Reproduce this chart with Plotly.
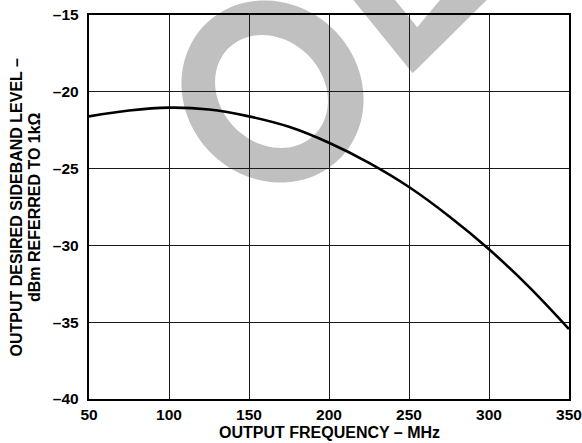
import numpy as np
import plotly.graph_objects as go

# ---- data ----
freq_mhz = [50, 75, 100, 125, 150, 175, 200, 225, 250, 275, 300, 325, 350]
level_dbm = [-21.6, -21.22, -21.03, -21.15, -21.6, -22.28, -23.32, -24.63,
             -26.2, -28.1, -30.25, -32.7, -35.45]

x_tick_vals = [50, 100, 150, 200, 250, 300, 350]
x_tick_text = ["50", "100", "150", "200", "250", "300", "350"]
y_tick_vals = [-40, -35, -30, -25, -20, -15]
y_tick_text = ["–40", "–35", "–30", "–25", "–20", "–15"]

x_title = "OUTPUT FREQUENCY – MHz"
y_title_1 = "OUTPUT DESIRED SIDEBAND LEVEL –"
y_title_2 = "dBm REFERRED TO 1kΩ"

# ---- layout geometry ----
W, H = 582, 443
ML, MR, MT, MB = 89, 13, 15, 44
PW, PH = W - ML - MR, H - MT - MB

FONT = "Liberation Sans, Arial, Helvetica, sans-serif"


def to_paper(px, py):
    return (px - ML) / PW, (H - MB - py) / PH


def poly_path(pts):
    s = ""
    for i, (px, py) in enumerate(pts):
        x, y = to_paper(px, py)
        s += ("M" if i == 0 else "L") + f"{x:.5f},{y:.5f}"
    return s + "Z"


def ellipse_pts(cx, cy, a, b, phi_deg, n=90, reverse=False):
    phi = np.radians(phi_deg)
    t = np.linspace(0, 2 * np.pi, n, endpoint=False)
    if reverse:
        t = t[::-1]
    xs = cx + a * np.cos(t) * np.cos(phi) - b * np.sin(t) * np.sin(phi)
    ys = cy + a * np.cos(t) * np.sin(phi) + b * np.sin(t) * np.cos(phi)
    return list(zip(xs, ys))


fig = go.Figure()
fig.add_trace(go.Scatter(
    x=freq_mhz, y=level_dbm, mode="lines",
    line=dict(color="black", width=2.6, shape="spline", smoothing=1.0),
    showlegend=False, hoverinfo="skip",
))

# ---- grey watermark fragments (letter "O" and corner of "B") ----
WM = "#c0c0c0"
ring = poly_path(ellipse_pts(272.5, 91.5, 95, 87, 45)) + \
    poly_path(ellipse_pts(271.5, 91.5, 61, 51.5, 45, reverse=True))
chevron = poly_path([(337.1, -20), (412.7, 73.3), (506.9, -20),
                     (456.6, -20), (417.3, 27.3), (378.7, -20)])
for p in (ring, chevron):
    fig.add_shape(type="path", path=p, xref="paper", yref="paper",
                  fillcolor=WM, line=dict(width=0), layer="below")

axis_common = dict(
    showgrid=True, gridcolor="#1a1a1a", gridwidth=1.3,
    showline=True, linecolor="black", linewidth=2.4, mirror=True,
    zeroline=False, ticks="outside", tickcolor="rgba(0,0,0,0)",
    automargin=False,
    tickfont=dict(family=FONT, size=15.5, color="black", weight="bold"),
)

fig.update_xaxes(range=[50, 350], tickvals=x_tick_vals, ticktext=x_tick_text,
                 ticklen=0, **axis_common)
fig.update_yaxes(range=[-40, -15], tickvals=y_tick_vals, ticktext=y_tick_text,
                 ticklen=5, **axis_common)

title_font = dict(family=FONT, size=16, color="black", weight="bold")
fig.add_annotation(text=x_title, x=0.5, y=to_paper(0, 432)[1],
                   xref="paper", yref="paper", showarrow=False,
                   xanchor="center", yanchor="middle", font=title_font)
fig.add_annotation(text=y_title_1, x=to_paper(15.5, 0)[0], y=to_paper(0, 207)[1],
                   xref="paper", yref="paper", showarrow=False, textangle=-90,
                   xanchor="center", yanchor="middle", font=title_font)
fig.add_annotation(text=y_title_2, x=to_paper(34, 0)[0], y=to_paper(0, 207)[1],
                   xref="paper", yref="paper", showarrow=False, textangle=-90,
                   xanchor="center", yanchor="middle", font=title_font)

fig.update_layout(
    width=W, height=H,
    margin=dict(l=ML, r=MR, t=MT, b=MB, pad=0, autoexpand=False),
    paper_bgcolor="white", plot_bgcolor="rgba(0,0,0,0)",
    showlegend=False,
)

fig.write_html(
    "out.html",
    config={"displayModeBar": False},
    post_script="document.body.style.margin='0';"
                "document.body.style.overflow='hidden';",
)
